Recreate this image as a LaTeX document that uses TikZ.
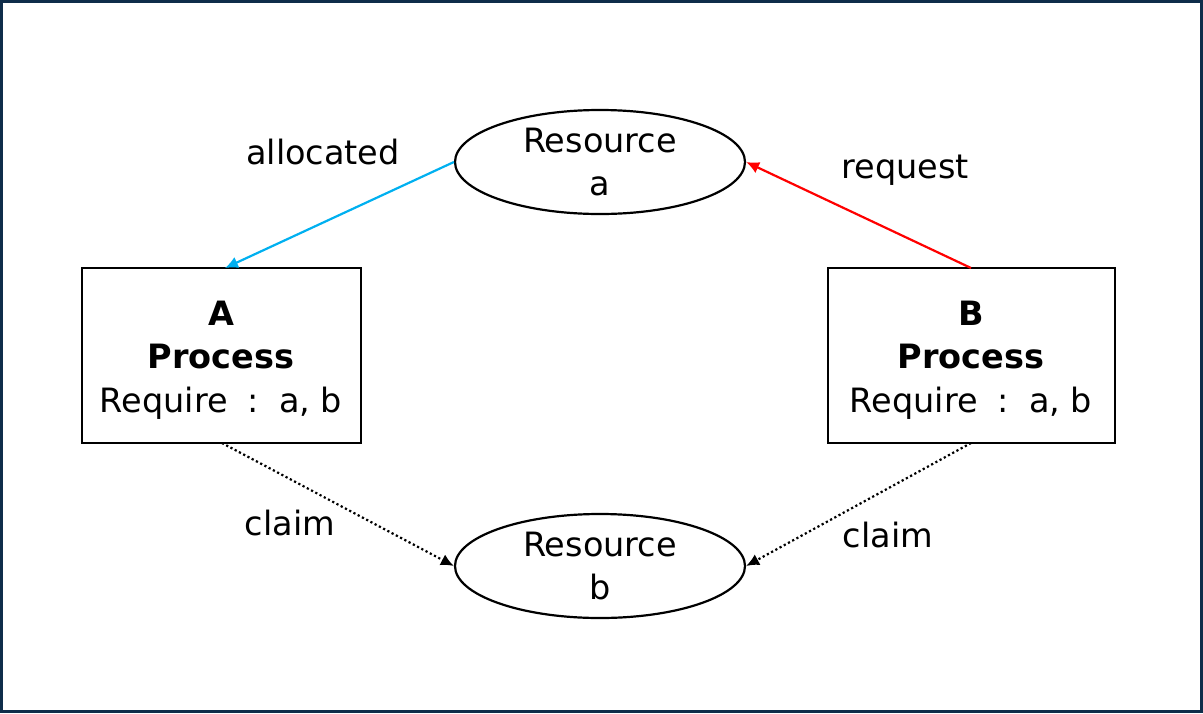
\documentclass[tikz,border=0pt]{standalone}
\usepackage{fontspec}
\setmainfont{DejaVu Sans}
\usetikzlibrary{shapes.geometric,arrows.meta}
\definecolor{frameblue}{HTML}{0F2D4A}
\definecolor{allocblue}{HTML}{00B0F0}
\tikzset{
  resource/.style={ellipse,draw,line width=2.2pt,minimum width=290pt,minimum height=104pt,inner sep=0pt,align=center,font=\fontsize{33.5}{43}\selectfont},
  process/.style={rectangle,draw,line width=2.2pt,minimum height=175pt,inner sep=0pt},
  edgelabel/.style={font=\fontsize{33.5}{36}\selectfont,inner sep=0pt},
  arrowtip/.style={-{Latex[length=13pt,width=12pt]}},
  claimline/.style={arrowtip,line width=2.2pt,dash pattern=on 2.2pt off 2.6pt}
}
\begin{document}
\begin{tikzpicture}[x=1pt,y=-1pt]
				\draw [frameblue,line width=3pt] (1.5,1.5) rectangle (1201.5,711.5);
				\useasboundingbox (0,0) rectangle (1203,713);
				\node [resource] (ra) at (600,162) {Resource\\a};
				\node [resource] (rb) at (600,566) {Resource\\b};
				\node [process,minimum width=279pt] (pa) at (221.5,355.5) {};
				\node [process,minimum width=287pt] (pb) at (971.5,355.5) {};
				% box texts
				\node [edgelabel] (pa1) at (221,313) {\textbf{A}};
				\node [edgelabel] (pa2) at (221,357) {\textbf{Process}};
				\node [edgelabel] (pa3) at (221,403) {Require\hspace{20pt}:\hspace{20pt}a, b};
				\node [edgelabel] (pb1) at (971,313) {\textbf{B}};
				\node [edgelabel] (pb2) at (971,357) {\textbf{Process}};
				\node [edgelabel] (pb3) at (971,403) {Require\hspace{20pt}:\hspace{20pt}a, b};
				\coordinate (pan) at (225,268);
				\coordinate (pbn) at (971,268);
				\coordinate (pas) at (222,443);
				\coordinate (pbs) at (971,443);
				\draw [allocblue,line width=2.2pt,arrowtip] (ra.west) -- (pan);
				\draw [red,line width=2.2pt,arrowtip] (pbn) -- (ra.east);
				\draw [claimline] (pas) -- (rb.west);
				\draw [claimline] (pbs) -- (rb.east);
				\node [edgelabel] (lalloc) at (323,152) {allocated};
				\node [edgelabel] (lreq) at (905,170) {request};
				\node [edgelabel] (lca) at (290,523) {claim};
				\node [edgelabel] (lcb) at (888,535) {claim};
			\end{tikzpicture}
\end{document}
